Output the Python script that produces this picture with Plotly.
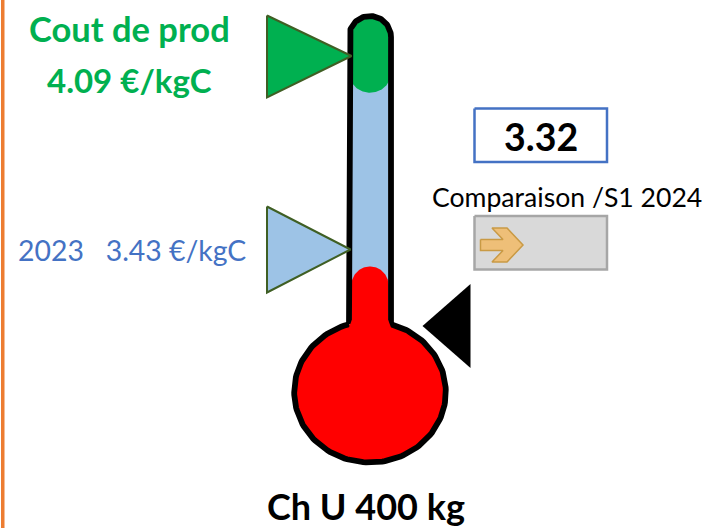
import numpy as np
import plotly.graph_objects as go

# ---- values
cost_label = "Cout de prod"
cost_value = 4.09
ref_year = "2023"
ref_value = 3.43
current_value = 3.32
compare_label = "Comparaison /S1 2024"
footer_label = "Ch U 400 kg"
unit = "€/kgC"

GREEN, BLUE, LIGHT, RED = "#00B050", "#4472C4", "#9DC3E6", "#FF0000"
EDGE = "#3F5F24"
FONT = "Lato"

# scale: the two side pointers fix the thermometer's value scale (pixel-like axis)
def y_of(v):
    return 56 + (cost_value - v) * (249.5 - 56) / (cost_value - ref_value)

CX = 370

def arc(cx, cy, rx, ry, a0, a1, n=60):
    t = np.radians(np.linspace(a0, a1, n))
    return cx + rx * np.cos(t), cy + ry * np.sin(t)

fig = go.Figure()

def poly(x, y, fill=None, line=None, width=0, close=True):
    x, y = list(x), list(y)
    if close:
        x.append(x[0]); y.append(y[0])
    fig.add_trace(go.Scatter(
        x=x, y=y, mode="lines", hoverinfo="skip", showlegend=False,
        fill="toself" if fill else "none", fillcolor=fill,
        line=dict(color=line or "rgba(0,0,0,0)", width=width),
    ))

# orange left rule
poly([1, 4.5, 4.5, 1], [0, 0, 528, 528], fill="#ED7D31")

# tube interior
RI = 18.5
ax, ay = arc(CX, 18.5 + RI, RI, RI, 180, 360)
poly(list(ax) + [CX + RI, CX - RI], list(ay) + [340, 340], fill=LIGHT)

# green fill
bx, by = arc(CX, 74, RI + 2, 18.7, 20, 160)
poly(list(ax) + list(bx), list(ay) + list(by), fill=GREEN)

# red stem + bulb
rx, ry = arc(CX, 285, RI, RI, 180, 360)
poly(list(rx) + [CX + RI, CX - RI], list(ry) + [345, 345], fill=RED)
ex, ey = arc(CX, 392, 75.5, 70.5, 0, 360, 160)
poly(ex, ey, fill=RED)

# outline
A = np.degrees(np.arccos(21 / 75.8))
lx, ly = arc(CX, 37, 21, 21, 180, 360)
sx, sy = arc(CX, 392, 75.8, 70.5, -A, 180 + A, 160)
ox = [CX - 21] + list(lx) + [CX + 21] + list(sx) + [CX - 21]
oy = [sy[-1]] + list(ly) + [sy[0]] + list(sy) + [sy[-1]]
poly(ox, oy, line="#000000", width=5.8, close=False)
# opening of the stem into the bulb
poly([CX - 18.2, CX + 18.2, CX + 23, CX - 23], [320, 320, 333, 333], fill=RED)

# pointers
tip = y_of(cost_value)
poly([267, 351.5, 267], [15.5, tip, 97.5], fill=GREEN, line=EDGE, width=2)
tip = y_of(ref_value)
poly([267, 350.5, 267], [206.5, tip, 292.5], fill=LIGHT, line=EDGE, width=2)
poly([422.5, 470.5, 470.5], [326, 284, 368], fill="#000000")

# value box
poly([474.5, 607, 607, 474.5], [108.5, 108.5, 162, 162], fill="#FFFFFF", line=BLUE, width=2.5)
# comparison box and arrow
poly([474.5, 607, 607, 474.5], [216, 216, 269.5, 269.5], fill="#D9D9D9", line="#A6A6A6", width=2.5)
poly([480.5, 503, 492, 507, 523, 507, 492, 503, 480.5],
     [239.5, 239.5, 228, 228, 245, 262, 262, 250.5, 250.5],
     fill="#EEBF78", line="#C99A45", width=1.5)

def label(x, y, text, size, color, bold=False):
    fig.add_annotation(x=x, y=y, text=f"<b>{text}</b>" if bold else text, showarrow=False,
                       xanchor="center", yanchor="middle",
                       font=dict(family=FONT, size=size, color=color))

label(129, 28, cost_label, 34.5, GREEN, True)
label(129, 80, f"{cost_value:.2f} {unit}", 33, GREEN, True)
label(132, 250, f"{ref_year}\u00a0\u00a0\u00a0{ref_value:.2f} {unit}", 28.4, BLUE)
label(541, 136.5, f"{current_value:.2f}", 37.5, "#000000", True)
label(566.5, 197, compare_label, 26.6, "#000000")
label(365.5, 506, footer_label, 36, "#000000", True)

fig.update_layout(
    width=709, height=528, margin=dict(l=0, r=0, t=0, b=0),
    paper_bgcolor="#FFFFFF", plot_bgcolor="#FFFFFF", showlegend=False,
    xaxis=dict(range=[0, 709], visible=False, fixedrange=True),
    yaxis=dict(range=[528, 0], visible=False, fixedrange=True),
)
fig.write_html("out.html", post_script="document.body.style.margin='0';", config=dict(displayModeBar=False))
